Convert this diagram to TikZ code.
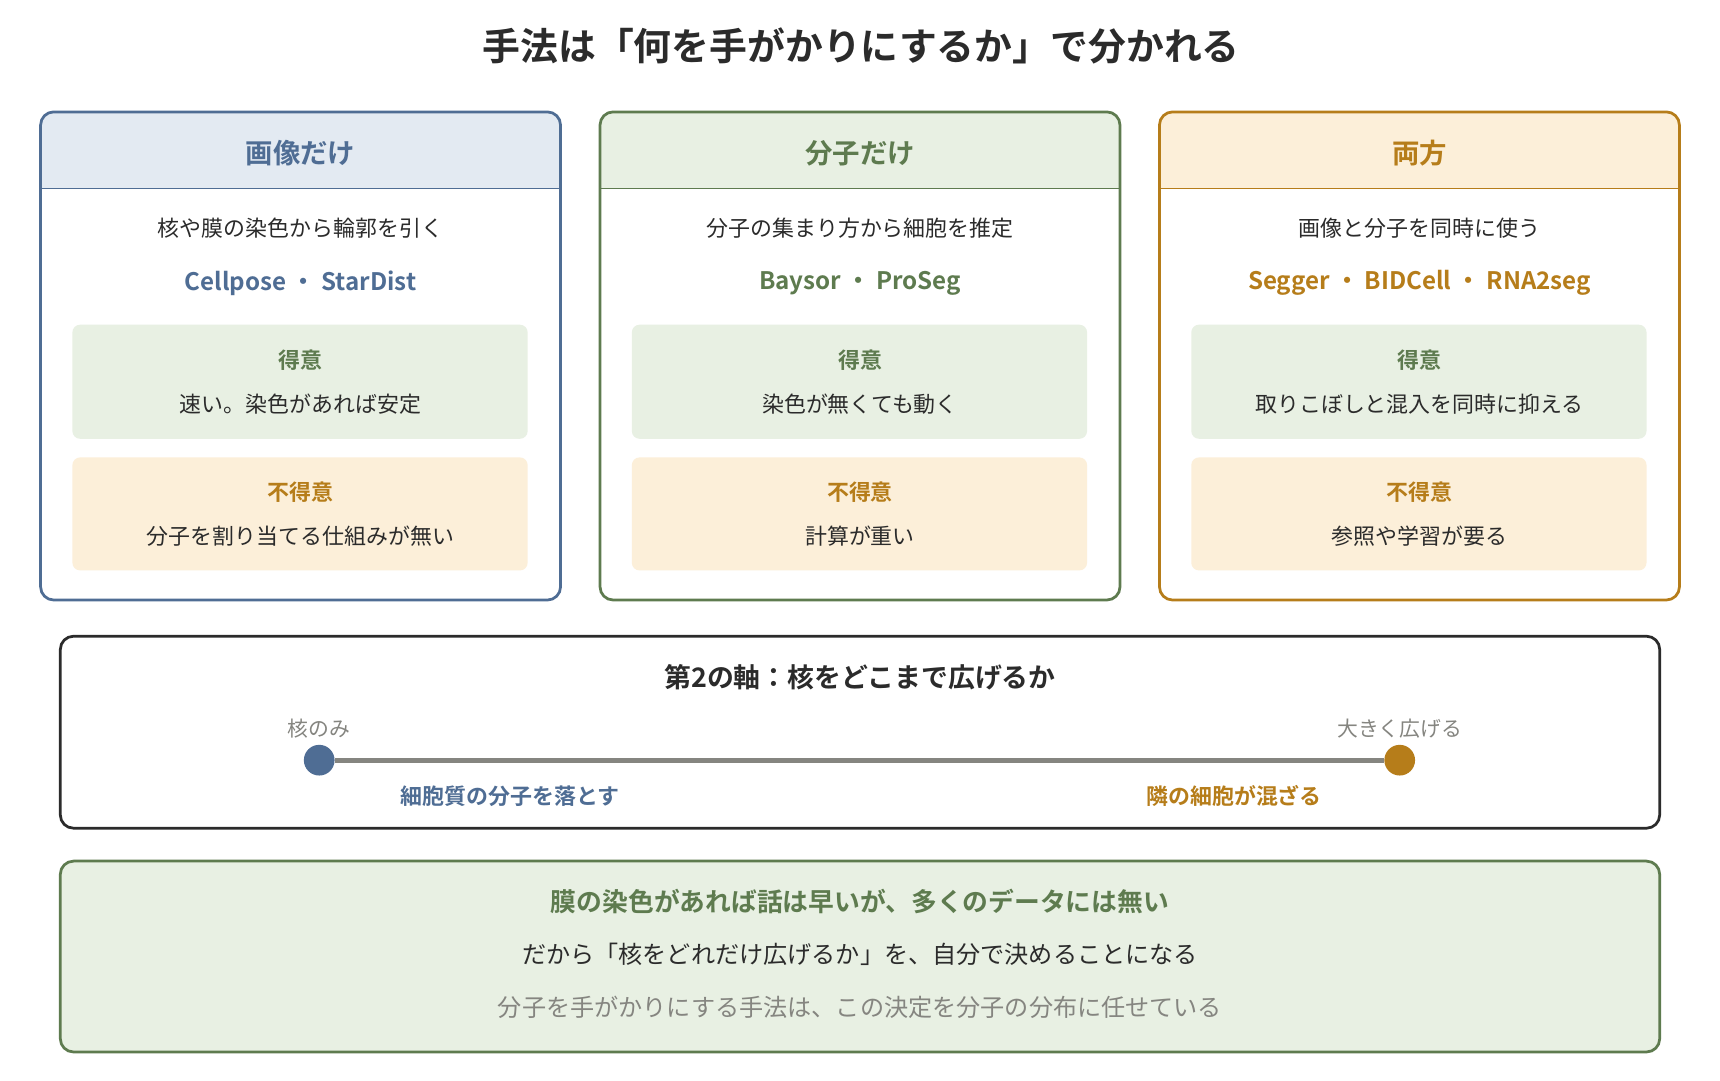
\documentclass[tikz,border=0pt]{standalone}
\usepackage{fontspec}
\setmainfont{Noto Sans CJK JP}
\newfontfamily\bfjp{Noto Sans CJK JP}[UprightFont={* Bold}]
\definecolor{cblue}{HTML}{4F6D94}
\definecolor{cgreen}{HTML}{5E7B4F}
\definecolor{corange}{HTML}{B67D1A}
\definecolor{ftxt}{HTML}{2B2B2B}
\definecolor{lblue}{HTML}{E3EAF2}
\definecolor{lgreen}{HTML}{E8F0E3}
\definecolor{lorange}{HTML}{FCEFD9}
\definecolor{cgray}{HTML}{858580}
\begin{document}
\begin{tikzpicture}[x=1pt,y=-1pt,
  t/.style={text=ftxt,font=\fontsize{20}{22}\selectfont,inner sep=0},
  b/.style={font=\bfjp\fontsize{20}{22}\selectfont,inner sep=0},
  hd/.style={font=\bfjp\fontsize{25}{27}\selectfont,inner sep=0},
  tool/.style={font=\bfjp\fontsize{22}{24}\selectfont,inner sep=0}]
\useasboundingbox (0,0) rectangle (1568,985);
\fill[white] (0,0) rectangle (1568,985);
\node[font=\bfjp\fontsize{34.5}{36}\selectfont,text=ftxt,inner sep=0] (title) at (785,42) {手法は「何を手がかりにするか」で分かれる};
\foreach \x/\c/\l/\h/\s/\tl/\g/\bd/\n in {
 37/cblue/lblue/画像だけ/核や膜の染色から輪郭を引く/{Cellpose ・ StarDist}/速い。染色があれば安定/分子を割り当てる仕組みが無い/a,
 547/cgreen/lgreen/分子だけ/分子の集まり方から細胞を推定/{Baysor ・ ProSeg}/染色が無くても動く/計算が重い/b,
 1057/corange/lorange/両方/画像と分子を同時に使う/{Segger ・ BIDCell ・ RNA2seg}/取りこぼしと混入を同時に抑える/参照や学習が要る/c}{
  \begin{scope}
   \clip[rounded corners=12] (\x,102) rectangle ++(474,445);
   \fill[\l] (\x,102) rectangle ++(474,70);
  \end{scope}
  \draw[\c,line width=1.2] (\x,172) -- ++(474,0);
  \draw[\c,line width=2.5,rounded corners=12] (\x,102) rectangle ++(474,445);
  \node[hd,text=\c] (h\n) at (\x+237,140) {\h};
  \node[t] (s\n) at (\x+237,208) {\s};
  \node[tool,text=\c] (tl\n) at (\x+237,258) {\tl};
  \fill[lgreen,rounded corners=7] (\x+29,296) rectangle ++(415,104);
  \fill[lorange,rounded corners=7] (\x+29,417) rectangle ++(415,103);
  \node[b,text=cgreen] (gl\n) at (\x+237,328) {得意};
  \node[t] (gt\n) at (\x+237,368) {\g};
  \node[b,text=corange] (bl\n) at (\x+237,449) {不得意};
  \node[t] (bt\n) at (\x+237,489) {\bd};
}
\draw[ftxt,line width=2.5,rounded corners=12] (55,580) rectangle (1513,755);
\node[b,text=ftxt,font=\bfjp\fontsize{24.5}{26}\selectfont] (ax) at (784,617) {第2の軸：核をどこまで広げるか};
\node[circle,fill=cblue,minimum size=28,inner sep=0] (l) at (291,693) {};
\node[circle,fill=corange,minimum size=28,inner sep=0] (r) at (1276,693) {};
\draw[cgray,line width=4.5] (l) -- (r);
\node[t,text=cgray,font=\fontsize{19}{21}\selectfont] (ll) at (291,664) {核のみ};
\node[t,text=cgray,font=\fontsize{19}{21}\selectfont] (rl) at (1276,664) {大きく広げる};
\node[b,text=cblue] (lb) at (465,726) {細胞質の分子を落とす};
\node[b,text=corange] (rb) at (1125,726) {隣の細胞が混ざる};
\draw[cgreen,fill=lgreen,line width=2.5,rounded corners=12] (55,785) rectangle (1513,959);
\node[b,text=cgreen,font=\bfjp\fontsize{23.5}{25}\selectfont] (m1) at (784,822) {膜の染色があれば話は早いが、多くのデータには無い};
\node[t,font=\fontsize{22}{24}\selectfont] (m2) at (784,870) {だから「核をどれだけ広げるか」を、自分で決めることになる};
\node[t,text=cgray,font=\fontsize{22}{24}\selectfont] (m3) at (784,918) {分子を手がかりにする手法は、この決定を分子の分布に任せている};
\end{tikzpicture}
\end{document}
